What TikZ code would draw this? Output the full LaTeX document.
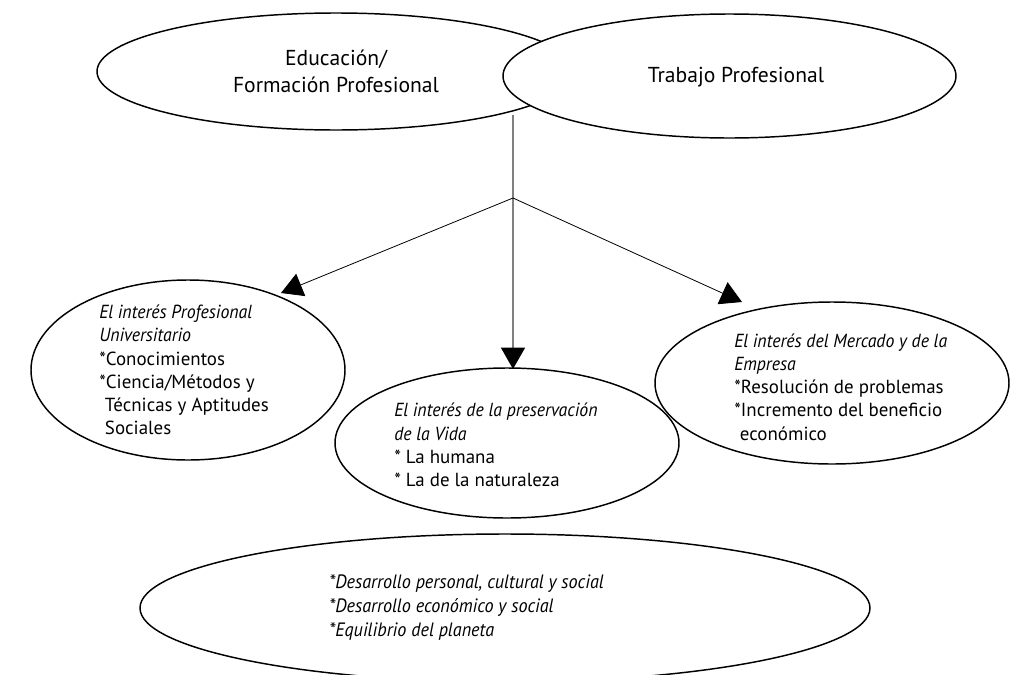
\documentclass[tikz,border=0pt]{standalone}
\usepackage{fontspec}
\setmainfont{PT Sans}[ItalicFeatures={FakeStretch=0.94}]
\usetikzlibrary{shapes.geometric,arrows.meta}

\tikzset{
  bubble/.style={ellipse, draw=black, line width=1.1pt, fill=white, inner sep=0pt},
  headtext/.style={inner sep=0.75pt, align=center, font=\fontsize{16.2}{20}\selectfont},
  bodytext/.style={inner sep=0.75pt, align=left, anchor=west, font=\fontsize{14.2}{17.4}\selectfont},
  foottext/.style={inner sep=0.75pt, align=left, anchor=west, font=\fontsize{14.5}{18}\selectfont\itshape},
  link/.style={line width=0.6pt, -{Triangle[width=18pt,length=16pt]}},
  stem/.style={line width=0.9pt, draw={rgb, 255:red, 128; green, 128; blue, 128}}
}

\begin{document}
\begin{tikzpicture}[x=0.75pt,y=0.75pt,yscale=-1,xscale=1]
\useasboundingbox (0,0) rectangle (1011,675);

%Ellipses [top]
\node[bubble, minimum width=358.5pt, minimum height=87.75pt] (educacion) at (336,71.5) {};
\node[bubble, minimum width=339.75pt, minimum height=93pt] (trabajo) at (729.5,76) {};
%Ellipses [middle row]
\node[bubble, minimum width=235.5pt, minimum height=135pt] (universidad) at (188,370) {};
\node[bubble, minimum width=258pt, minimum height=112.5pt] (vida) at (507,443) {};
\node[bubble, minimum width=265.5pt, minimum height=121.5pt] (mercado) at (832,383) {};
%Ellipse [bottom]
\node[bubble, minimum width=547.5pt, minimum height=111pt] (desarrollo) at (505,608) {};

%Connector points
\coordinate (stemtop) at (513,115);
\coordinate (junction) at (513,198);
\coordinate (tipvida) at (513,369);
\coordinate (tipuniv) at (281,293);
\coordinate (tipmerc) at (742,302);

%Straight Lines
\draw[stem] (stemtop) -- (junction);
\draw[stem, -{Triangle[width=18pt,length=16pt,color=black,fill=black]}] (junction) -- (tipvida);
\draw[link] (junction) -- (tipuniv);
\draw[link] (junction) -- (tipmerc);

% Text Node
\node[headtext] (educaciontext) at (336,71.5) {Educación/\\Formación Profesional};
% Text Node
\node[headtext] (trabajotext) at (736,77) {Trabajo Profesional};
% Text Node
\node[bodytext] (universidadtext) at (98,370) {\textit{El interés Profesional}\\\textit{Universitario}\\{*}Conocimientos\\{*}Ciencia/Métodos y\\\hspace*{0.3em}Técnicas y Aptitudes\\\hspace*{0.3em}Sociales};
% Text Node
\node[bodytext] (vidatext) at (393,445) {\textit{El interés de la preservación}\\\textit{de la Vida}\\{*} La humana\\{*} La de la naturaleza};
% Text Node
\node[bodytext] (mercadotext) at (733,387) {\textit{El interés del Mercado y de la}\\\textit{Empresa}\\{*}Resolución de problemas\\{*}Incremento del beneficio\\\hspace*{0.3em}económico};
% Text Node
\node[foottext] (desarrollotext) at (328,608) {{*}Desarrollo personal, cultural y social\\{*}Desarrollo económico y social\\{*}Equilibrio del planeta};

\end{tikzpicture}
\end{document}
